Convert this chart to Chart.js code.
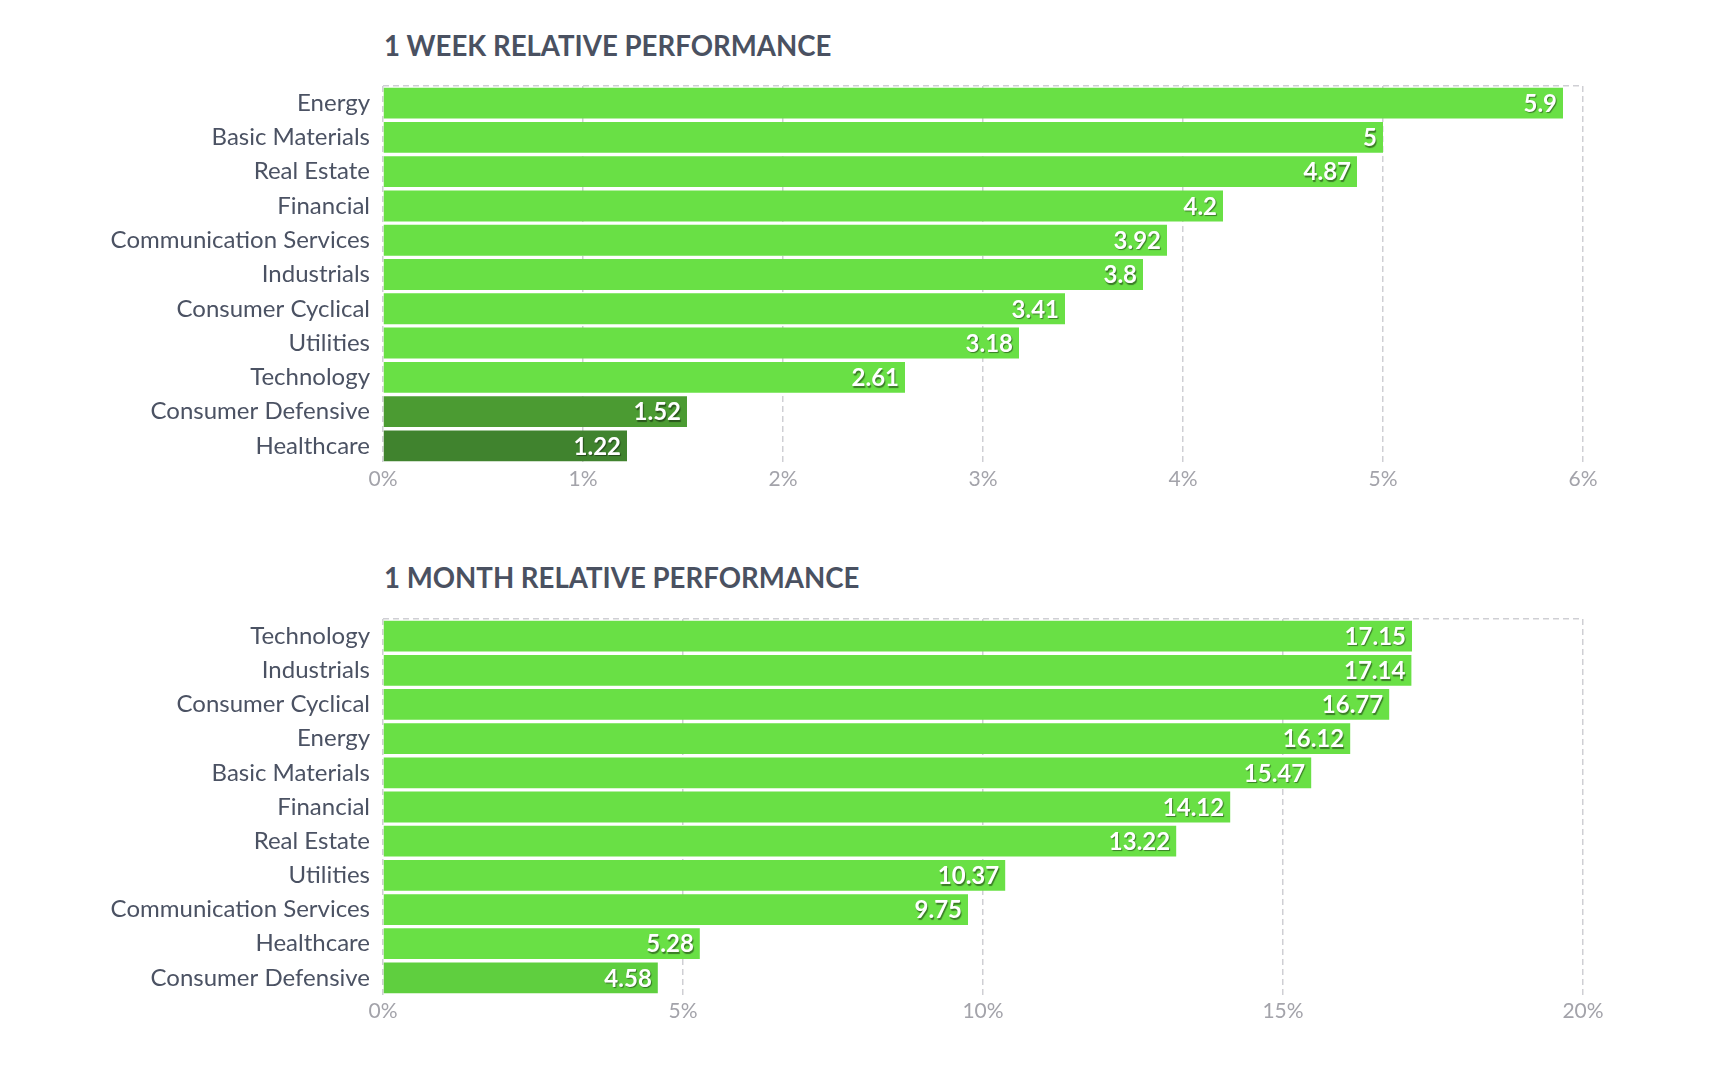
<!DOCTYPE html>
<html>
<head>
<meta charset="utf-8">
<script src="https://cdn.jsdelivr.net/npm/chart.js@4.4.1/dist/chart.umd.min.js"></script>
<style>
  html, body { margin: 0; padding: 0; background: #fff; }
  body { width: 1718px; height: 1078px; position: relative; overflow: hidden; font-family: Lato, sans-serif; }
  .title { position: absolute; left: 384px; font: 700 27.6px/28px Lato, sans-serif; color: #4a5161; white-space: nowrap; }
  .box { position: absolute; left: 0; width: 1718px; }
</style>
</head>
<body>
<div class="title" style="top:32px">1 WEEK RELATIVE PERFORMANCE</div>
<div class="box" style="top:0; height:500px"><canvas id="weekChart"></canvas></div>
<div class="title" style="top:564px">1 MONTH RELATIVE PERFORMANCE</div>
<div class="box" style="top:500px; height:540px"><canvas id="monthChart"></canvas></div>
<script>
// 1 week
const weekSectors = ['Energy', 'Basic Materials', 'Real Estate', 'Financial', 'Communication Services',
    'Industrials', 'Consumer Cyclical', 'Utilities', 'Technology', 'Consumer Defensive', 'Healthcare'];
const weekValues = [5.9, 5, 4.87, 4.2, 3.92, 3.8, 3.41, 3.18, 2.61, 1.52, 1.22];
const weekTicks = [0, 1, 2, 3, 4, 5, 6];

// 1 month
const monthSectors = ['Technology', 'Industrials', 'Consumer Cyclical', 'Energy', 'Basic Materials',
    'Financial', 'Real Estate', 'Utilities', 'Communication Services', 'Healthcare', 'Consumer Defensive'];
const monthValues = [17.15, 17.14, 16.77, 16.12, 15.47, 14.12, 13.22, 10.37, 9.75, 5.28, 4.58];
const monthTicks = [0, 5, 10, 15, 20];

const GREEN = '#69e045';
const weekColors = weekValues.map((v, i) => i === 9 ? '#4b9b32' : i === 10 ? '#40832e' : GREEN);
const monthColors = monthValues.map((v, i) => i === 10 ? '#5fcf3f' : GREEN);

const GRID = '#cfcfd4';

// white value labels at the end of each bar
const valueLabels = {
    id: 'valueLabels',
    afterDatasetsDraw(chart) {
        const ctx = chart.ctx;
        const ds = chart.data.datasets[0];
        chart.getDatasetMeta(0).data.forEach((bar, i) => {
            ctx.save();
            ctx.font = '700 24px Lato, sans-serif';
            ctx.fillStyle = '#fff';
            ctx.textAlign = 'right';
            ctx.textBaseline = 'middle';
            ctx.shadowColor = 'rgba(0,0,0,0.45)';
            ctx.shadowOffsetX = 1;
            ctx.shadowOffsetY = 1.5;
            ctx.shadowBlur = 1;
            ctx.fillText(String(ds.data[i]), bar.x - 6, bar.y + 1);
            ctx.restore();
        });
    }
};

function makeChart(id, labels, values, colors, ticks, topPad, bottomPad) {
    const max = ticks[ticks.length - 1];
    const step = ticks[1] - ticks[0];
    return new Chart(document.getElementById(id), {
        type: 'bar',
        data: {
            labels: labels,
            datasets: [{ data: values, backgroundColor: colors, borderWidth: 0,
                         categoryPercentage: 1, barPercentage: 0.9 }]
        },
        options: {
            indexAxis: 'y',
            responsive: true,
            maintainAspectRatio: false,
            animation: false,
            layout: { padding: { top: topPad, right: 135, bottom: bottomPad, left: 0 } },
            plugins: { legend: { display: false }, tooltip: { enabled: false }, title: { display: false } },
            scales: {
                x: {
                    min: 0, max: max,
                    afterFit: (s) => { s.height = 37; },
                    border: { display: false, dash: [6, 4] },
                    grid: { color: GRID, lineWidth: 1.5, drawTicks: false },
                    ticks: { stepSize: step, padding: 4, color: '#a3a3aa',
                             font: { family: 'Lato', size: 21 },
                             callback: (v) => v + '%' }
                },
                y: {
                    afterFit: (s) => { s.width = 383; },
                    border: { display: false, dash: [6, 4] },
                    grid: {
                        drawTicks: false, lineWidth: 1.5,
                        color: (c) => (c.index === 0 || c.index === labels.length) ? GRID : 'rgba(0,0,0,0)'
                    },
                    ticks: { padding: 13, color: '#4b5263', font: { family: 'Lato', size: 24 } }
                }
            }
        },
        plugins: [valueLabels]
    });
}

const weekChart = makeChart('weekChart', weekSectors, weekValues, weekColors, weekTicks, 86, 0);
const monthChart = makeChart('monthChart', monthSectors, monthValues, monthColors, monthTicks, 119, 8);
</script>
</body>
</html>
